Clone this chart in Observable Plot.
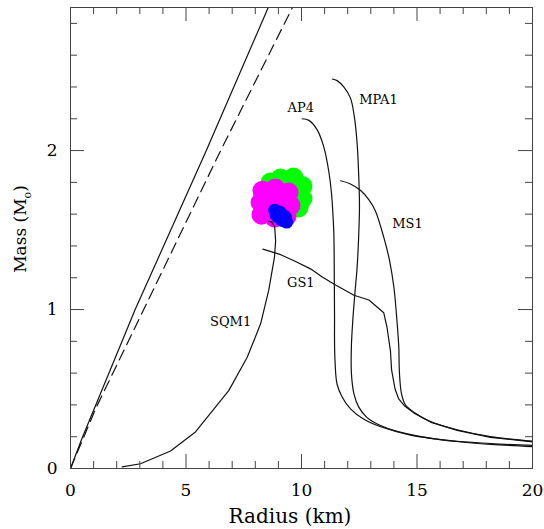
<!DOCTYPE html>
<html><head><meta charset="utf-8">
<script src="https://cdn.jsdelivr.net/npm/d3@7"></script>
<script src="https://cdn.jsdelivr.net/npm/@observablehq/plot@0.6"></script>
<style>
body{margin:0;background:#fff}
#wrap{position:relative;width:544px;height:529px}
#wrap svg{position:absolute;left:0;top:0;display:block}
</style>
</head><body><div id="wrap"></div>
<script>
// tick values
const xMajor = [0, 5, 10, 15, 20];
const xMinor = [1, 2, 3, 4, 6, 7, 8, 9, 11, 12, 13, 14, 16, 17, 18, 19];
const yMajor = [0, 1, 2];
const yMinor = [0.2, 0.4, 0.6, 0.8, 1.2, 1.4, 1.6, 1.8, 2.2, 2.4, 2.6, 2.8];

// limit lines [radius km, mass Msun]
const limitSolid = [[0, 0], [0.5, 0.19], [2.8, 1.0], [5.88, 2.0], [8.56, 2.9]];
const limitDashed = [[0, 0], [1.1, 0.38], [3.17, 1.0], [6.5, 2.0], [9.61, 2.9]];

// mass-radius curves
const AP4 = [[10.03,2.20],[10.32,2.19],[10.68,2.13],[10.97,2.02],[11.18,1.87],[11.3,1.73],[11.36,1.6],[11.4,1.48],[11.42,1.2],[11.43,0.95],[11.43,0.8],[11.45,0.68],[11.54,0.53],[11.76,0.45],[12.12,0.375],[12.7,0.31],[13.56,0.256],[14.72,0.21],[16.74,0.17],[18.2,0.152],[20,0.138]];
const MPA1 = [[11.33,2.45],[11.54,2.44],[11.83,2.40],[12.12,2.33],[12.29,2.21],[12.41,2.04],[12.48,1.83],[12.51,1.65],[12.48,1.48],[12.41,1.27],[12.31,1.10],[12.22,0.93],[12.16,0.77],[12.16,0.6],[12.27,0.47],[12.48,0.386],[12.84,0.32],[13.42,0.27],[14.14,0.234],[16.0,0.182],[18.18,0.157],[20,0.145]];
const MS1 = [[11.69,1.81],[12.12,1.79],[12.55,1.75],[12.92,1.69],[13.2,1.62],[13.56,1.455],[13.81,1.31],[14.0,1.14],[14.11,0.97],[14.21,0.77],[14.24,0.6],[14.33,0.47],[14.5,0.40],[14.86,0.354],[15.58,0.296],[16.74,0.244],[18.18,0.2],[20,0.172]];
const GS1 = [[8.33,1.38],[9.1,1.345],[9.7,1.305],[10.39,1.256],[10.9,1.205],[11.4,1.16],[12.27,1.09],[12.92,1.06],[13.56,0.98],[13.7,0.89],[13.85,0.74],[13.9,0.62],[14.05,0.5],[14.2,0.44],[14.45,0.395],[14.86,0.35],[15.58,0.292],[16.74,0.24],[18.18,0.196],[20,0.168]];
const SQM1 = [[2.24,0.01],[3.03,0.03],[4.33,0.11],[5.41,0.23],[6.85,0.49],[7.65,0.70],[8.23,0.91],[8.58,1.12],[8.83,1.33],[8.88,1.43],[8.84,1.52],[8.72,1.55],[8.59,1.555]];

// measurement regions (unions of disks) [radius, mass]
const greenRegion = [[9.09,1.824],[9.65,1.830],[10.04,1.777],[10.04,1.698],[9.87,1.642],[9.31,1.642],[8.74,1.717],[8.66,1.799],[9.39,1.736],[9.5,1.69]];
const magentaRegion = [[8.31,1.748],[8.87,1.761],[9.44,1.736],[9.52,1.654],[9.35,1.585],[8.83,1.579],[8.27,1.597],[8.23,1.673],[8.87,1.667]];
const blueCore = [[9.0, 1.600], [9.2, 1.575]];
const blueEnds = [[8.84, 1.625], [9.36, 1.550]];

// curve labels
const labelNames = ["AP4", "MPA1", "MS1", "GS1", "SQM1"];
const labelR = [9.97, 13.33, 14.59, 9.97, 6.93];
const labelM = [2.27, 2.32, 1.54, 1.17, 0.925];

function toRows(arr) { return arr.map(([r, m]) => ({r, m})); }

const W = 544, H = 529, mL = 70, mR = 12, mT = 7, mB = 61;
const wrap = document.getElementById("wrap");

// main chart: data marks, tick labels, titles
(function () {
  const ink = "#111";
  const curveLabels = labelNames.map((t, i) => ({t, r: labelR[i], m: labelM[i]}));
  const c = Plot.plot({
    width: W, height: H, marginLeft: mL, marginRight: mR, marginTop: mT, marginBottom: mB,
    style: {fontFamily: "DejaVu Serif", background: "#fff"},
    x: {domain: [0, 20]}, y: {domain: [0, 2.9]},
    marks: [
      Plot.dot(toRows(greenRegion), {x: "r", y: "m", r: 10, fill: "#00ff00"}),
      Plot.dot(toRows(magentaRegion), {x: "r", y: "m", r: 10, fill: "#ff00ff"}),
      Plot.dot(toRows(blueCore), {x: "r", y: "m", r: 9, fill: "#0000ff"}),
      Plot.dot(toRows(blueEnds), {x: "r", y: "m", r: 6.5, fill: "#0000ff"}),
      Plot.line(toRows(limitSolid), {x: "r", y: "m", stroke: ink, strokeWidth: 1.2}),
      Plot.line(toRows(limitDashed), {x: "r", y: "m", stroke: ink, strokeWidth: 1.2, strokeDasharray: "11,6"}),
      Plot.line(toRows(AP4), {x: "r", y: "m", stroke: ink, strokeWidth: 1.2, curve: "catmull-rom"}),
      Plot.line(toRows(MPA1), {x: "r", y: "m", stroke: ink, strokeWidth: 1.2, curve: "catmull-rom"}),
      Plot.line(toRows(MS1), {x: "r", y: "m", stroke: ink, strokeWidth: 1.2, curve: "catmull-rom"}),
      Plot.line(toRows(GS1), {x: "r", y: "m", stroke: ink, strokeWidth: 1.2}),
      Plot.line(toRows(SQM1), {x: "r", y: "m", stroke: ink, strokeWidth: 1.2}),
      Plot.text(curveLabels, {x: "r", y: "m", text: "t", fontSize: 13}),
      Plot.axisX(xMajor, {anchor: "bottom", tickSize: 0, tickPadding: 15, fontSize: 17, label: null, tickFormat: (d) => String(d)}),
      Plot.axisY(yMajor, {anchor: "left", tickSize: 0, tickPadding: 13, fontSize: 17, label: null, tickFormat: (d) => String(d)})
    ]
  });
  const svg = d3.select(c);
  svg.append("text")
    .attr("x", 290).attr("y", 523)
    .attr("text-anchor", "middle")
    .attr("font-size", 20)
    .text("Radius (km)");
  const ml = svg.append("text")
    .attr("transform", "translate(26,229) rotate(-90)")
    .attr("text-anchor", "middle")
    .attr("font-size", 17);
  ml.append("tspan").text("Mass (M");
  ml.append("tspan").attr("font-size", 11).attr("dy", 5).text("o");
  ml.append("tspan").attr("dy", -5).text(")");
  wrap.appendChild(c);
})();

// overlay: frame and inward ticks on all four sides, same scales
(function () {
  const col = "#444";
  const fw = W - mL - mR, fh = H - mT - mB;
  const o = Plot.plot({
    width: W, height: H, marginLeft: mL, marginRight: mR, marginTop: mT, marginBottom: mB,
    style: {background: "transparent"},
    x: {domain: [0, 20], axis: null}, y: {domain: [0, 2.9], axis: null},
    marks: [
      Plot.tickX(xMajor, {x: (d) => d, stroke: col, insetTop: fh - 14}),
      Plot.tickX(xMinor, {x: (d) => d, stroke: col, insetTop: fh - 7}),
      Plot.tickX(xMajor, {x: (d) => d, stroke: col, insetBottom: fh - 14}),
      Plot.tickX(xMinor, {x: (d) => d, stroke: col, insetBottom: fh - 7}),
      Plot.tickY(yMajor, {y: (d) => d, stroke: col, insetRight: fw - 14}),
      Plot.tickY(yMinor, {y: (d) => d, stroke: col, insetRight: fw - 7}),
      Plot.tickY(yMajor, {y: (d) => d, stroke: col, insetLeft: fw - 14}),
      Plot.tickY(yMinor, {y: (d) => d, stroke: col, insetLeft: fw - 7}),
      Plot.frame({stroke: col})
    ]
  });
  o.style.pointerEvents = "none";
  wrap.appendChild(o);
})();
</script>
</body></html>
